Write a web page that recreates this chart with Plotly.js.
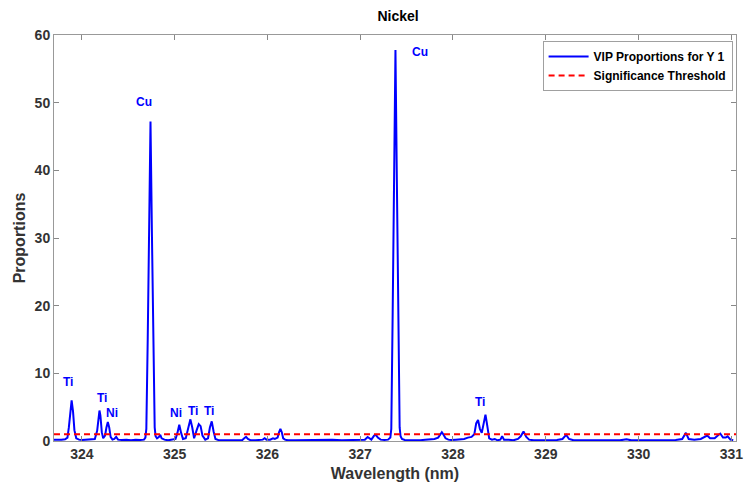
<!DOCTYPE html>
<html>
<head>
<meta charset="utf-8">
<script src="https://cdn.plot.ly/plotly-3.0.1.min.js"></script>
<style>html,body{margin:0;padding:0;background:#fff;}#chart{width:744px;height:489px;}</style>
</head>
<body>
<div id="chart"></div>
<script>
const wavelength = [
323.70,323.74,323.78,323.82,323.845,323.86,323.875,323.89,323.905,323.92,323.94,323.97,
324.00,324.05,324.10,324.14,324.165,324.18,324.19,324.20,324.215,324.23,324.25,324.265,324.28,324.295,
324.31,324.33,324.35,324.37,324.39,324.43,324.48,324.53,324.58,324.63,
324.67,324.685,324.695,324.71,324.725,324.74,324.755,324.77,324.785,324.795,324.81,324.83,
324.845,324.86,324.89,324.93,324.97,325.01,325.03,325.05,325.07,325.09,
325.12,325.145,325.17,325.19,325.21,325.235,325.26,325.28,325.30,325.33,
325.36,325.38,325.40,325.42,325.44,325.48,325.53,325.58,325.63,325.68,
325.73,325.75,325.77,325.79,325.82,325.87,325.92,325.95,325.97,325.99,
326.03,326.06,326.08,326.11,326.125,326.14,326.155,326.17,326.19,326.22,326.30,
326.40,326.50,326.60,326.70,326.80,326.90,327.00,327.05,327.08,327.10,
327.12,327.15,327.17,327.19,327.22,327.26,327.30,327.325,327.335,327.35,327.365,
327.38,327.395,327.41,327.425,327.435,327.45,327.48,327.55,327.60,327.65,327.70,
327.75,327.80,327.84,327.865,327.88,327.895,327.92,327.95,327.98,328.03,328.08,328.12,
328.16,328.20,328.23,328.25,328.27,328.29,328.31,328.33,328.35,328.37,
328.39,328.42,328.45,328.48,328.51,328.53,328.55,328.60,328.65,328.70,
328.73,328.76,328.79,328.82,328.87,328.95,329.05,329.12,329.18,329.22,
329.25,329.30,329.40,329.50,329.60,329.70,329.80,329.87,329.92,330.00,
330.10,330.20,330.30,330.40,330.47,330.51,330.54,330.60,330.67,330.71,
330.74,330.77,330.82,330.86,330.88,330.91,330.94,330.96,330.99,331.02
];
const proportions = [
0.20,0.15,0.20,0.25,0.50,2.00,4.60,6.00,4.40,1.60,0.40,0.20,
0.15,0.20,0.15,0.30,1.50,3.60,4.50,3.80,1.30,0.40,0.80,2.00,2.80,2.00,
0.60,0.20,0.30,0.60,0.20,0.15,0.20,0.10,0.20,0.15,
0.20,0.50,1.80,15.0,31.0,47.2,31.0,15.0,2.00,0.70,0.40,0.60,
0.90,0.40,0.20,0.10,0.15,0.30,1.20,2.40,1.20,0.30,
0.40,2.00,3.20,2.00,0.40,1.50,2.50,2.20,0.80,0.20,
0.40,2.00,2.90,1.40,0.30,0.10,0.10,0.15,0.10,0.10,
0.15,0.40,0.60,0.30,0.10,0.10,0.15,0.20,0.40,0.20,
0.20,0.40,0.30,0.50,1.30,1.80,1.30,0.40,0.20,0.10,0.10,
0.15,0.10,0.15,0.20,0.10,0.10,0.15,0.20,0.60,0.40,
0.20,0.80,0.90,0.50,0.20,0.15,0.20,0.50,1.80,19.0,38.5,
57.8,38.5,19.0,2.00,0.70,0.30,0.15,0.10,0.15,0.10,0.20,
0.20,0.30,0.50,1.00,1.30,1.00,0.40,0.20,0.15,0.20,0.20,0.30,
0.50,0.60,1.00,2.60,3.10,1.80,1.20,2.80,3.90,2.20,
0.40,0.20,0.30,0.10,0.20,0.70,0.20,0.20,0.10,0.30,
0.70,1.40,0.60,0.20,0.10,0.10,0.10,0.15,0.30,0.90,
0.30,0.10,0.10,0.15,0.10,0.10,0.10,0.25,0.10,0.10,
0.10,0.15,0.10,0.15,0.30,1.20,0.30,0.20,0.30,0.60,
0.80,0.40,0.40,0.90,1.10,0.50,0.50,0.70,0.20,0.10
];
const thresholdX = [323.70, 331.05];
const thresholdY = [1.0, 1.0];
const peakLabels = ["Ti","Ti","Ni","Cu","Ni","Ti","Ti","Cu","Ti"];
const labelX = [323.85, 324.22, 324.33, 324.67, 325.01, 325.195, 325.37, 327.645, 328.295];
const labelY = [8.7, 6.3, 4.1, 50.1, 4.2, 4.5, 4.5, 57.5, 5.7];
const xTicks = [324,325,326,327,328,329,330,331];
const yTicks = [0,10,20,30,40,50,60];

const font = "Liberation Sans, Arial, sans-serif";
const traces = [
  {x: wavelength, y: proportions, type: "scatter", mode: "lines",
   name: "<b>VIP Proportions for Y 1</b>", line: {color: "#0000ff", width: 2}},
  {x: thresholdX, y: thresholdY, type: "scatter", mode: "lines",
   name: "<b>Significance Threshold</b>", line: {color: "#ff0000", width: 2, dash: "6px,4px"}}
];
const annotations = peakLabels.map((t, i) => ({
  x: labelX[i], y: labelY[i], text: "<b>" + t + "</b>", showarrow: false,
  font: {family: font, size: 12, color: "#0000ff"}, xanchor: "center", yanchor: "middle"
}));
const layout = {
  width: 744, height: 489,
  margin: {l: 54, r: 8, t: 35, b: 48},
  paper_bgcolor: "#fff", plot_bgcolor: "#fff",
  title: {text: "<b>Nickel</b>", font: {family: font, size: 14, color: "#000"}, x: 0.535, xanchor: "center", y: 0.967, yanchor: "middle"},
  showlegend: true,
  legend: {x: 0.995, xanchor: "right", y: 0.985, yanchor: "top", bordercolor: "#a0a0a0", borderwidth: 1,
           bgcolor: "#fff", font: {family: font, size: 12, color: "#000"}, tracegroupgap: 0,
           itemwidth: 40},
  xaxis: {range: [323.70, 331.05], tickvals: xTicks, ticktext: xTicks.map(v => "<b>" + v + "</b>"),
          ticks: "inside", ticklen: 5, tickcolor: "#888", mirror: "ticks", showline: true, linecolor: "#999", linewidth: 1,
          showgrid: false, zeroline: false, ticklabeloverflow: "allow",
          tickfont: {family: font, size: 14, color: "#333"},
          title: {text: "<b>Wavelength (nm)</b>", font: {family: font, size: 16, color: "#333"}, standoff: 7}},
  yaxis: {range: [0, 60], tickvals: yTicks, ticktext: yTicks.map(v => "<b>" + v + "</b>"),
          ticks: "inside", ticklen: 5, tickcolor: "#888", mirror: "ticks", showline: true, linecolor: "#999", linewidth: 1,
          showgrid: false, zeroline: false,
          tickfont: {family: font, size: 14, color: "#333"},
          title: {text: "<b>Proportions</b>", font: {family: font, size: 16, color: "#333"}, standoff: 5}},
  annotations: annotations
};
Plotly.newPlot("chart", traces, layout, {displayModeBar: false, staticPlot: true});
</script>
</body>
</html>
